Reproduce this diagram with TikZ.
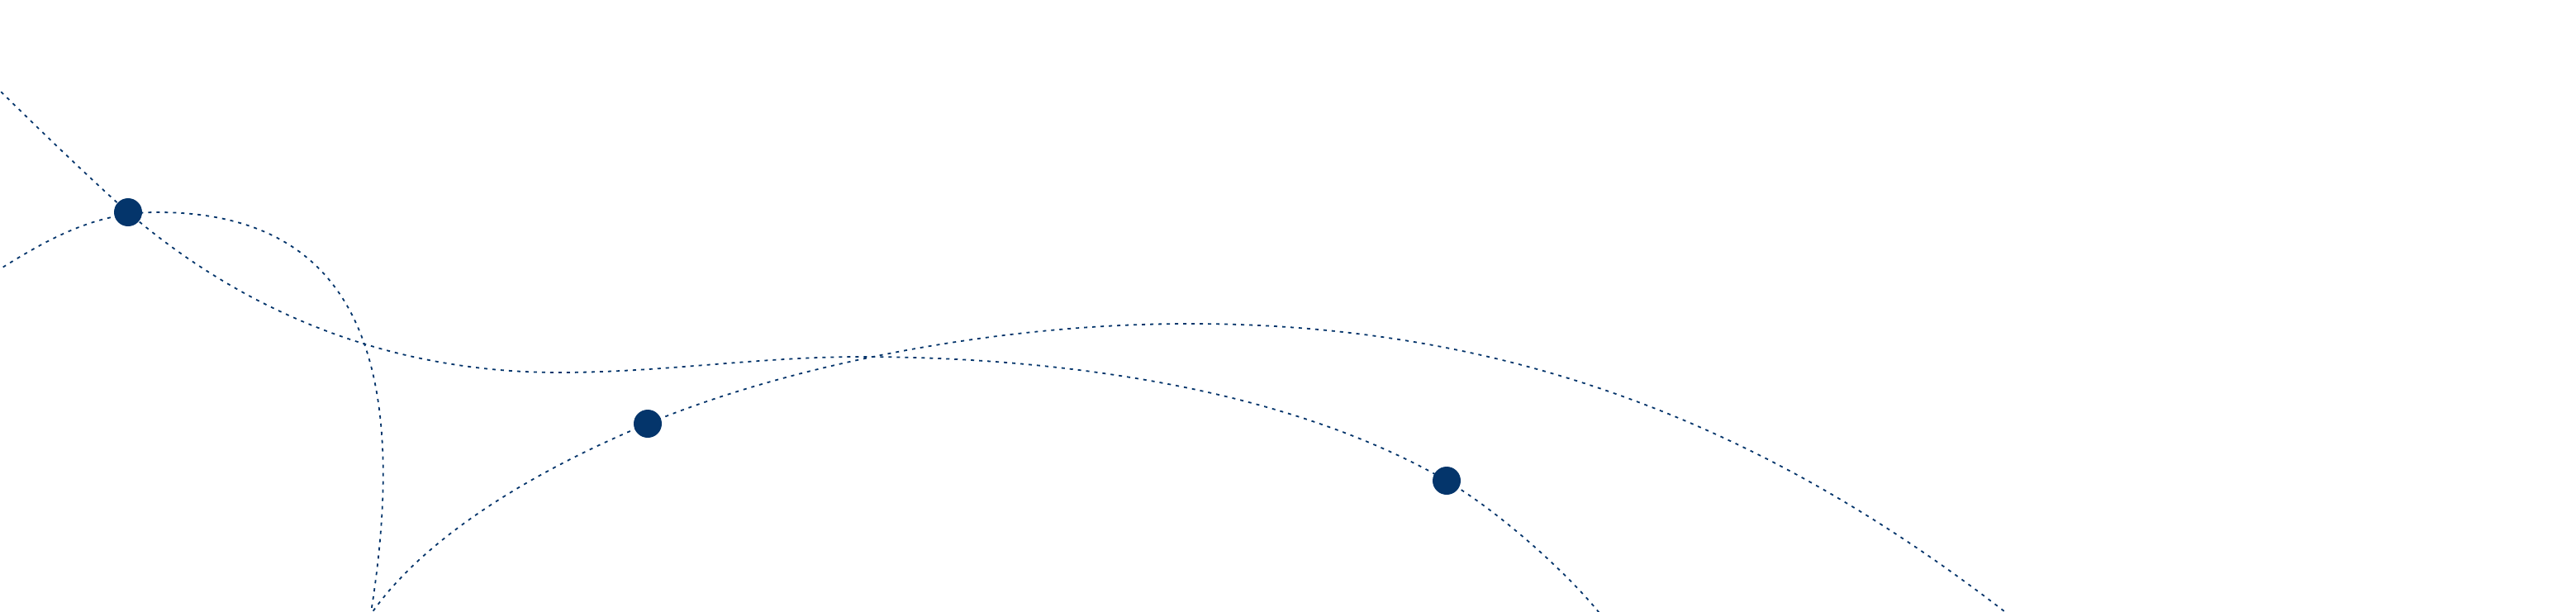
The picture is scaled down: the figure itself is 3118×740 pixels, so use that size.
\documentclass[tikz,border=0pt]{standalone}
\usepackage{tikz}
\usetikzlibrary{positioning,backgrounds}
\usepackage{xcolor}
\definecolor{routenavy}{HTML}{04356B}

\begin{document}
\begin{tikzpicture}[
  x=1pt, y=-1pt,
  routeline/.style={
    draw=routenavy,
    line width=1.8pt,
    dash pattern=on 4pt off 6pt
  },
  waypoint/.style={
    circle,
    fill=routenavy,
    minimum size=34pt,
    inner sep=0pt
  }
]
  \useasboundingbox (0,0) rectangle (3118,740);

  % --- Waypoints ---
  \node[waypoint] (wp1) at (155,257) {};
  \node[waypoint] (wp2) at (784,513) {};
  \node[waypoint] (wp3) at (1751,582) {};

  % --- Dotted routes, behind the waypoints ---
  \begin{scope}[on background layer]
    \clip (0,0) rectangle (3118,740);
    % long wave through wp1 and wp3
    \draw[routeline] (-20,90) .. controls (30,140) and (117,224) .. (wp1.center)
      .. controls (284,368) and (457,451) .. (677,451)
      .. controls (800,451) and (920,432) .. (1040,432)
      .. controls (1290,432) and (1561,472) .. (wp3.center)
      .. controls (1820,623) and (1906,702) .. (1942,750);
    % wide arch through wp2
    \draw[routeline] (446,748) .. controls (518,640) and (673,559) .. (wp2.center)
      .. controls (932,451) and (1180,392) .. (1440,392)
      .. controls (1860,392) and (2170,538) .. (2445,755);
    % small loop through wp1
    \draw[routeline] (-30,345) .. controls (50,293) and (110,257) .. (190,257)
      .. controls (420,257) and (504,420) .. (446,760);
  \end{scope}

\end{tikzpicture}
\end{document}
